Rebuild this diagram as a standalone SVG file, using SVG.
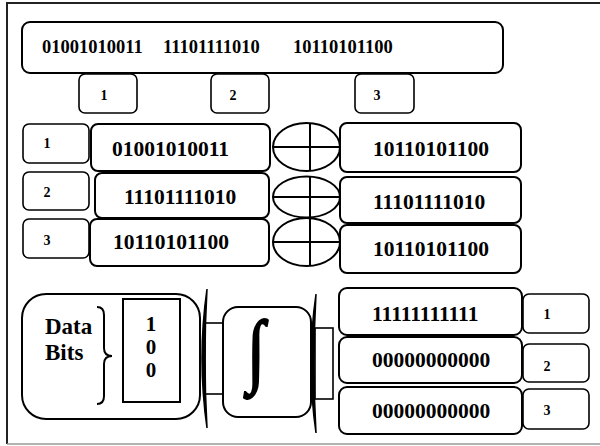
<svg xmlns="http://www.w3.org/2000/svg" width="600" height="446" viewBox="0 0 600 446">
<style>
.box{fill:#fff;stroke:#000;stroke-width:2}
.sm{fill:#fff;stroke:#000;stroke-width:1.6}
.t{font-family:"Liberation Serif","Times New Roman",serif;font-weight:bold;fill:#000}
.big{font-size:21.5px}
.top{font-size:18.5px}
.lab{font-size:14px}
.ln{fill:none;stroke:#000;stroke-width:2}
</style>
<rect width="600" height="446" fill="#fff"/>
<g id="frame">
<path d="M7,444 L7,3 L600,3" fill="none" stroke="#222" stroke-width="2"/>
<path d="M7,444 L600,444" fill="none" stroke="#999" stroke-width="1.5"/>
</g>
<g id="top-sequence">
<rect class="box" x="22" y="22" width="481" height="51" rx="8"/>
<text class="t top" x="42" y="53">01001010011</text>
<text class="t top" x="163" y="53">11101111010</text>
<text class="t top" x="293" y="53">10110101100</text>
</g>
<g id="top-label-1"><rect class="sm" x="79" y="74" width="58" height="39" rx="6"/><text class="t lab" x="104" y="100" text-anchor="middle">1</text></g>
<g id="top-label-2"><rect class="sm" x="211" y="74" width="58" height="39" rx="6"/><text class="t lab" x="233" y="100" text-anchor="middle">2</text></g>
<g id="top-label-3"><rect class="sm" x="355" y="74" width="59" height="39" rx="6"/><text class="t lab" x="377" y="100" text-anchor="middle">3</text></g>

<g id="row-label-1"><rect class="sm" x="23" y="124" width="66" height="39" rx="6"/><text class="t lab" x="47" y="148" text-anchor="middle">1</text></g>
<g id="row-label-2"><rect class="sm" x="23" y="172" width="66" height="38" rx="6"/><text class="t lab" x="47" y="197" text-anchor="middle">2</text></g>
<g id="row-label-3"><rect class="sm" x="23" y="219" width="66" height="39" rx="6"/><text class="t lab" x="47" y="245" text-anchor="middle">3</text></g>

<g id="seg-1"><rect class="box" x="91" y="124" width="179" height="47" rx="7"/><text class="t big" x="112" y="156">01001010011</text></g>
<g id="seg-2"><rect class="box" x="95" y="173" width="174" height="45" rx="7"/><text class="t big" x="124" y="204">11101111010</text></g>
<g id="seg-3"><rect class="box" x="90" y="219" width="179" height="47" rx="7"/><text class="t big" x="113" y="249">10110101100</text></g>

<g id="xor-1"><ellipse class="box" cx="306.5" cy="147" rx="33.5" ry="24"/><path class="ln" d="M273,147 H340 M310,123 V171"/></g>
<g id="xor-2"><ellipse class="box" cx="306.5" cy="197" rx="33.5" ry="20.5"/><path class="ln" d="M273,197 H340 M310,177 V217"/></g>
<g id="xor-3"><ellipse class="box" cx="306.5" cy="242" rx="33.5" ry="24"/><path class="ln" d="M273,242 H340 M310,218 V266"/></g>

<g id="res-1"><rect class="box" x="340" y="123" width="181" height="49" rx="7"/><text class="t big" x="373" y="156">10110101100</text></g>
<g id="res-2"><rect class="box" x="340" y="177" width="181" height="46" rx="7"/><text class="t big" x="373" y="209">11101111010</text></g>
<g id="res-3"><rect class="box" x="340" y="225" width="181" height="48" rx="7"/><text class="t big" x="373" y="256">10110101100</text></g>

<g id="data-bits">
<rect class="box" x="22" y="294" width="178" height="125" rx="24"/>
<text class="t" font-size="23" x="45" y="334">Data</text>
<text class="t" font-size="23" x="45" y="360">Bits</text>
<path class="ln" d="M97,307 Q104,307 104,315 L104,348 Q104,356 112,356 Q104,356 104,364 L104,396 Q104,404 97,404"/>
<rect fill="#fff" stroke="#000" stroke-width="2" x="123" y="299" width="57" height="103"/>
<text class="t" font-size="21" x="151" y="331" text-anchor="middle">1</text>
<text class="t" font-size="21" x="151" y="354" text-anchor="middle">0</text>
<text class="t" font-size="21" x="151" y="377" text-anchor="middle">0</text>
</g>

<g id="connectors">
<rect class="sm" x="205" y="323" width="18" height="71"/>
<path d="M207,289 Q197,358 207,428 Q203,358 207,289Z" fill="#000" stroke="#000" stroke-width="1.5"/>
<rect class="sm" x="315" y="328" width="18" height="71"/>
<path d="M316,294 Q306,363 316,433 Q312,363 316,294Z" fill="#000" stroke="#000" stroke-width="1.5"/>
</g>

<g id="integrator">
<rect class="box" x="223" y="307" width="88" height="110" rx="15"/>
<text class="t" font-size="58" x="256" y="372" text-anchor="middle" stroke="#000" stroke-width="1.6" transform="translate(256,360) scale(1.1,1.4) translate(-256,-360)">∫</text>
</g>

<g id="out-1"><rect class="box" x="339" y="288" width="183" height="47" rx="8"/><text class="t big" x="372" y="321">11111111111</text></g>
<g id="out-2"><rect class="box" x="339" y="337" width="183" height="46" rx="8"/><text class="t big" x="372" y="367">00000000000</text></g>
<g id="out-3"><rect class="box" x="339" y="387" width="183" height="47" rx="8"/><text class="t big" x="372" y="418">00000000000</text></g>

<g id="out-label-1"><rect class="sm" x="523" y="294" width="66" height="39" rx="6"/><text class="t lab" x="547" y="319" text-anchor="middle">1</text></g>
<g id="out-label-2"><rect class="sm" x="523" y="344" width="66" height="38" rx="6"/><text class="t lab" x="547" y="371" text-anchor="middle">2</text></g>
<g id="out-label-3"><rect class="sm" x="523" y="389" width="66" height="40" rx="6"/><text class="t lab" x="547" y="415" text-anchor="middle">3</text></g>
</svg>
